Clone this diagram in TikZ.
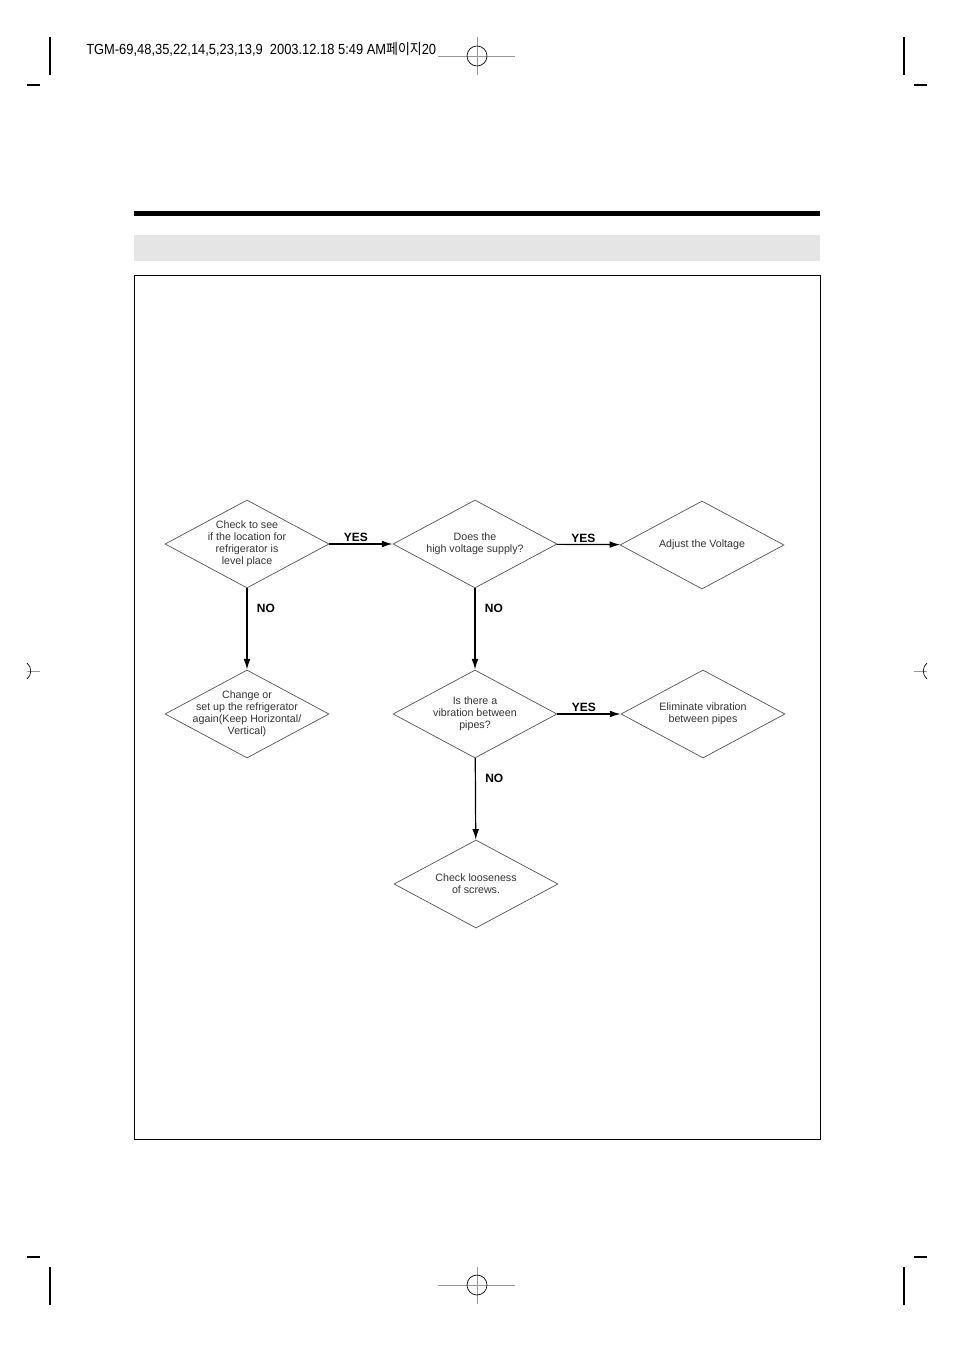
\documentclass[tikz,border=0pt]{standalone}
\usepackage{fontspec}
\setmainfont{Liberation Sans}
\newfontfamily\krfont{Noto Sans CJK KR}
\usetikzlibrary{shapes.geometric,arrows.meta}
\tikzstyle{decision} = [draw=black!65, line width=0.55pt, diamond, aspect=1.86,
inner sep=-5pt, minimum width=123pt, minimum height=66pt, align=center,
text=black!80, font=\fontsize{8}{9}\selectfont]
\tikzstyle{flow} = [draw, line width=0.9pt, -{Latex[length=8pt,width=5pt]}]
\tikzstyle{answer} = [font=\fontsize{9}{10}\selectfont\bfseries, inner sep=1pt]
\tikzstyle{cropmark} = [line width=0.9pt]
\tikzstyle{regmark} = [line width=0.6pt, black!40]

\begin{document}
\begin{tikzpicture}[x=0.75pt, y=-0.75pt]
		\useasboundingbox (0,0) rectangle (954,1351);
		% crop marks
		\draw [cropmark] (50,37) -- (50,75) (27,85) -- (40,85);
		\draw [cropmark] (904,37) -- (904,75) (914,85) -- (927,85);
		\draw [cropmark] (50,1267) -- (50,1305) (27,1257) -- (40,1257);
		\draw [cropmark] (904,1267) -- (904,1305) (914,1257) -- (927,1257);
		\draw [regmark] (438,56) -- (515,56) (477,37) -- (477,75);
		\draw [line width=0.5pt] (477,56) circle [radius=7.5pt];
		\draw [regmark] (438,1285) -- (515,1285) (477,1267) -- (477,1304);
		\draw [line width=0.5pt] (477,1285) circle [radius=7.5pt];
		\draw [regmark] (27,671) -- (40,671) (914,671) -- (927,671);
		\draw [line width=0.5pt] (27,663) .. controls (32,667) and (32,675) .. (27,679);
		\draw [line width=0.5pt] (927,663) .. controls (922,667) and (922,675) .. (927,679);
		\node [anchor=base west, inner sep=0pt] (slug) at (86,55)
			{\scalebox{0.88}[1]{\fontsize{11}{12}\selectfont TGM-69,48,35,22,14,5,23,13,9\ \ 2003.12.18 5:49 AM{\krfont 페이지}20}};

		% page head
		\fill (134,211) rectangle (820,216);
		\fill [black!10] (134,235) rectangle (820,261);
		\draw [line width=0.75pt] (134,276) rectangle (820,1139);

		% chart
		\node [decision] (level) at (247,544) {Check to see\\if the location for\\refrigerator is\\level place};
		\node [decision] (volt) at (475,544) {Does the\\high voltage supply?};
		\node [decision] (adjust) at (702,545) {Adjust the Voltage};
		\node [decision] (setup) at (247,714) {Change or\\set up the refrigerator\\again(Keep Horizontal/\\Vertical)};
		\node [decision] (vib) at (475,714) {Is there a\\vibration between\\pipes?};
		\node [decision] (elim) at (703,714) {Eliminate vibration\\between pipes};
		\node [decision] (screw) at (476,884) {Check looseness\\of screws.};

		\draw [flow] (level) -- node [answer, above, pos=.42] {YES} (volt);
		\draw [flow] (volt) -- node [answer, above, pos=.42] {YES} (adjust);
		\draw [flow] (vib) -- node [answer, above, pos=.42] {YES} (elim);
		\draw [flow] (level) -- node [answer, right=6pt, pos=.25] {NO} (setup);
		\draw [flow] (volt) -- node [answer, right=6pt, pos=.25] {NO} (vib);
		\draw [flow] (vib) -- node [answer, right=6pt, pos=.25] {NO} (screw);
\end{tikzpicture}
\end{document}
